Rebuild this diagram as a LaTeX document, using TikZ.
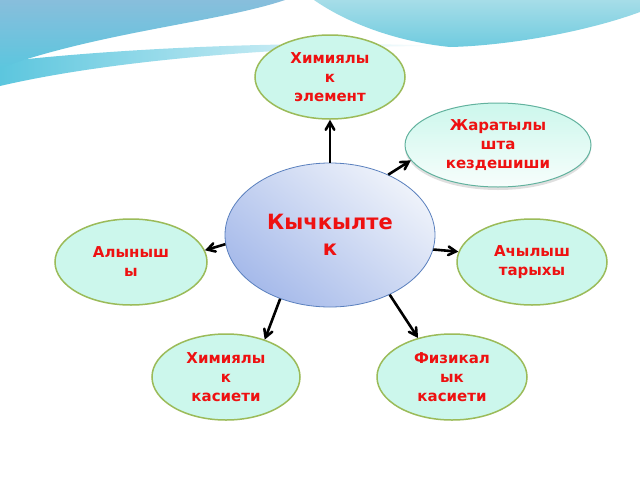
\documentclass[tikz,border=0pt]{standalone}
\usepackage{fontspec}
\setmainfont{DejaVu Sans}
\usetikzlibrary{arrows,shapes.geometric,shadows}

\definecolor{leafline}{HTML}{9BBB59}
\definecolor{leaffill}{HTML}{CCF7EC}
\definecolor{natline}{HTML}{62B29E}
\definecolor{hubline}{HTML}{5A80BE}
\definecolor{hubdark}{HTML}{A6BAEA}
\definecolor{hublight}{HTML}{EEF2FA}
\definecolor{wavetop}{HTML}{88BEDC}
\definecolor{wavelow}{HTML}{5CC6DE}
\definecolor{bandtop}{HTML}{A6DDE8}
\definecolor{bandlow}{HTML}{6FCBDF}
\definecolor{labelred}{HTML}{EE1111}

\begin{document}
\begin{tikzpicture}[->,>=angle 60,x=1pt,y=-1pt,
        leaf/.style={ellipse,draw=leafline,line width=1.5pt,fill=leaffill,inner sep=0pt,
            minimum width=150pt,minimum height=86pt,text=labelred,align=center,
            font=\bfseries\fontsize{15}{19}\selectfont},
        hub/.style={ellipse,draw=hubline,line width=0.8pt,inner sep=0pt,
            top color=hublight,bottom color=hubdark,shading angle=-40,
            minimum width=210pt,minimum height=144pt,text=labelred,align=center,
            font=\bfseries\fontsize{21}{26}\selectfont},
        link/.style={line width=2.6pt,black}]

    \useasboundingbox[fill=white] (0,0) rectangle (640,480);

    % waves at the top
    \shade[left color=wavelow,right color=white] (0,62)
        .. controls (120,48) and (300,40) .. (440,46)
        .. controls (300,46) and (120,58) .. (0,86) -- cycle;
    \shade[top color=wavetop,bottom color=wavelow] (0,0) -- (285,0)
        .. controls (220,22) and (100,32) .. (0,68) -- cycle;
    \shade[top color=bandtop,bottom color=bandlow] (314,0) -- (640,0) -- (640,12)
        .. controls (580,34) and (500,46) .. (450,47)
        .. controls (400,42) and (350,25) .. (314,0) -- cycle;

    \node[hub] (ox) at (330,235) {Кычкылте\\к};
    \node[leaf] (elem) at (330,77) [minimum height=84pt] {Химиялы\\к\\элемент};
    \node[leaf,draw=natline,line width=1pt,top color=leaffill,bottom color=white!85!leaffill,
        drop shadow={opacity=0.25,shadow xshift=0pt,shadow yshift=-3pt},
        minimum width=186pt,minimum height=84pt] (nature) at (498,145) {Жаратылы\\шта\\кездешиши};
    \node[leaf] (obtain) at (131,262) [minimum width=152pt] {Алыныш\\ы};
    \node[leaf] (history) at (532,262) {Ачылыш\\тарыхы};
    \node[leaf] (chemprop) at (226,377) [minimum width=148pt] {Химиялы\\к\\касиети};
    \node[leaf] (physprop) at (452,377) {Физикал\\ык\\касиети};

    \path[link] (ox.north) edge (elem.south)
        (ox.46) edge (nature.190)
        (ox.-8) edge (history.172)
        (ox.-45) edge (physprop.131)
        (ox.232) edge (chemprop.44)
        (ox.185) edge (obtain.9);

\end{tikzpicture}
\end{document}
